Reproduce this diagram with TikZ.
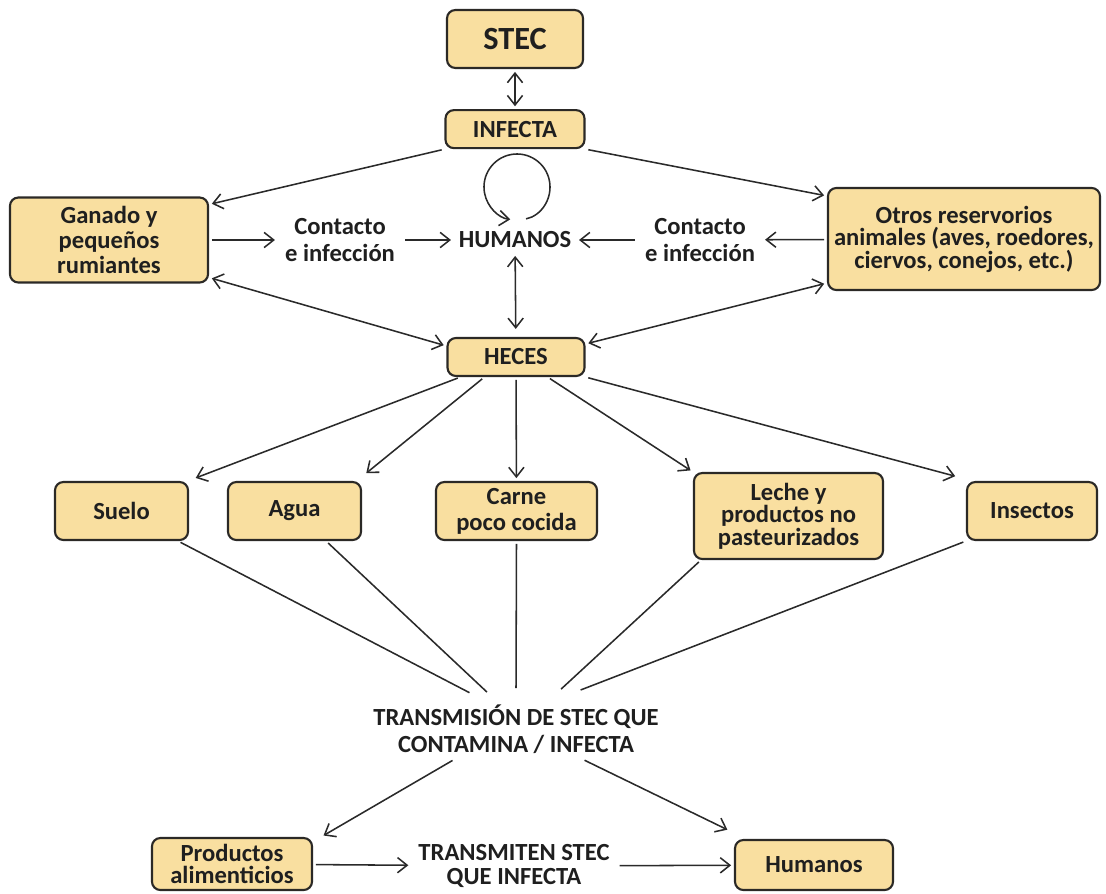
\documentclass[tikz,border=0pt]{standalone}
\usepackage{fontspec}
\setmainfont{Carlito}
\definecolor{BoxFill}{HTML}{F9DFA0}
\definecolor{BoxLine}{HTML}{2B2926}
\definecolor{InkGray}{HTML}{2A2A2A}
\usetikzlibrary{positioning,arrows.meta}

\begin{document}
\begin{tikzpicture}[x=0.025cm, y=-0.025cm, >={Straight Barb[length=2.4mm,width=3.8mm]},
    every node/.style={font=\fontsize{17.5}{16}\selectfont\bfseries, text=black!88, align=center},
    box/.style={draw=BoxLine, line width=1.5pt, fill=BoxFill, rounded corners=6pt},
    lbl/.style={inner sep=5pt, font=\fontsize{17.5}{19}\selectfont\bfseries},
    link/.style={line width=1.1pt, draw=InkGray, shorten >=2pt, shorten <=2pt}]
  \useasboundingbox (0,0) rectangle (1106,894);

  % top part
  \node[box, minimum width=3.4cm, minimum height=1.45cm, font=\fontsize{23}{24}\selectfont\bfseries] (stec) at (515,39) {STEC};
  \node[box, minimum width=3.475cm, minimum height=0.95cm, below=1cm of stec] (infecta) {INFECTA};
  \node (humanos) at (515,240) {HUMANOS};
  \coordinate (loopc) at (517,187);
  \node[box, minimum width=4.95cm, minimum height=2.125cm, font=\fontsize{17.5}{18}\selectfont\bfseries] (ganado) at (109,240) {Ganado y\\pequeños\\rumiantes};
  \node[lbl] (contL) at (340,240) {Contacto\\e infección};
  \node[box, minimum width=6.8cm, minimum height=2.55cm] (otros) at (964,239) {Otros reservorios\\animales (aves, roedores,\\ciervos, conejos, etc.)};
  \node[lbl] (contR) at (700,240) {Contacto\\e infección};
  \node[box, minimum width=3.425cm, minimum height=0.95cm] (heces) at (516,357) {HECES};

  % sources
  \node[box, minimum width=3.325cm, minimum height=1.45cm] (suelo) at (121.5,511) {Suelo};
  \node[box, minimum width=3.325cm, minimum height=1.45cm] (agua) at (294.5,511) {Agua};
  \node[box, minimum width=4.025cm, minimum height=1.45cm, font=\fontsize{17.5}{18.5}\selectfont\bfseries] (carne) at (516.5,511) {Carne\\poco cocida};
  \node[box, minimum width=4.725cm, minimum height=2.15cm] (leche) at (788.5,516) {Leche y\\productos no\\pasteurizados};
  \node[box, minimum width=3.25cm, minimum height=1.45cm] (insectos) at (1032,511) {Insectos};

  % bottom part
  \node[lbl] (transm) at (516,729) {TRANSMISIÓN DE STEC QUE\\CONTAMINA / INFECTA};
  \node[box, minimum width=4cm, minimum height=1.3cm] (productos) at (232,864) {Productos\\alimenticios};
  \node[lbl, font=\fontsize{17.5}{16.5}\selectfont\bfseries] (transmiten) at (514,866) {TRANSMITEN STEC\\QUE INFECTA};
  \node[box, minimum width=3.95cm, minimum height=1.25cm] (humanosb) at (814,865) {Humanos};

  % connectors
  \draw[link, <->] (stec) -- (infecta);
  \draw[link, ->] ([shift={(-79:0.825cm)}]loopc) arc[start angle=-79, end angle=263, radius=0.825cm];
  \draw[link, ->] (infecta.south west) -- ([yshift=-0.2cm]ganado.north east);
  \draw[link, ->] (infecta.south east) -- ([yshift=-0.225cm]otros.north west);
  \draw[link, ->] (ganado) -- (contL);
  \draw[link, ->] (contL) -- (humanos);
  \draw[link, ->] (otros) -- (contR);
  \draw[link, ->] (contR) -- (humanos);
  \draw[link, <->, shorten >=0.2cm] (humanos) -- (heces);
  \draw[link, <->] ([yshift=0.15cm]ganado.south east) -- ([yshift=-0.225cm]heces.north west);
  \draw[link, <->] ([yshift=0.2cm]otros.south west) -- ([yshift=-0.175cm]heces.north east);

  \draw[link, ->] ([xshift=0.35cm]heces.south west) -- ([xshift=0.1cm,yshift=0.05cm]suelo.north east);
  \draw[link, ->] ([xshift=0.95cm]heces.south west) -- ([xshift=0.05cm,yshift=0.15cm]agua.north east);
  \draw[link, ->] (heces) -- (carne);
  \draw[link, ->] ([xshift=-0.95cm]heces.south east) -- (leche.north west);
  \draw[link, ->] (heces.south east) -- ([xshift=-0.2cm,yshift=0.1cm]insectos.north west);

  \draw[link] ([xshift=-0.275cm]suelo.south east) -- ([xshift=-1.1cm,yshift=0.875cm]transm.center);
  \draw[link] ([xshift=-0.9cm]agua.south east) -- ([xshift=-0.675cm,yshift=0.875cm]transm.center);
  \draw[link] (carne.south) -- ([yshift=0.95cm]transm.center);
  \draw[link] ([xshift=0.2cm]leche.south west) -- ([xshift=1.075cm,yshift=0.95cm]transm.center);
  \draw[link] (insectos.south west) -- ([xshift=1.55cm,yshift=0.95cm]transm.center);

  \draw[link, ->] ([xshift=-1.525cm,yshift=-0.75cm]transm.center) -- ([xshift=0.2cm]productos.north east);
  \draw[link, ->] ([xshift=1.65cm,yshift=-0.75cm]transm.center) -- ([xshift=-0.1cm,yshift=0.2cm]humanosb.north west);
  \draw[link, ->] (productos) -- (transmiten);
  \draw[link, ->] (transmiten) -- (humanosb);
\end{tikzpicture}
\end{document}
